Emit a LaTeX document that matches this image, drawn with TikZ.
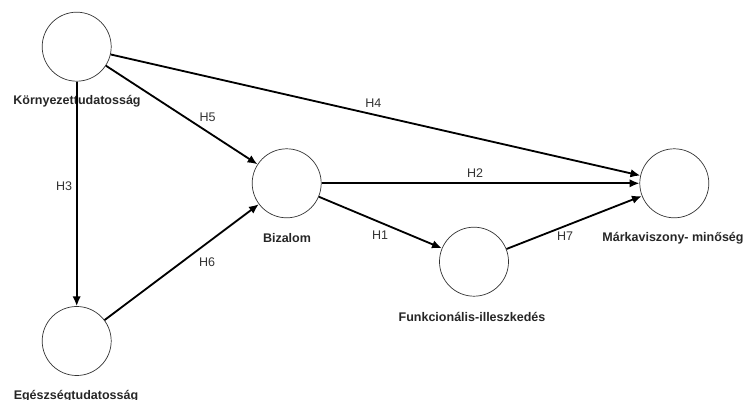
\documentclass[tikz,border=0pt]{standalone}
\usepackage{fontspec}
\setmainfont{Liberation Sans}
\usetikzlibrary{arrows.meta}
\tikzset{
  construct/.style={circle, draw=black!80, line width=0.5pt, minimum size=1.725cm, inner sep=0pt},
  caption/.style={font=\fontsize{8.9}{10}\selectfont\bfseries, text=black!85, inner sep=1pt},
  hyp/.style={font=\fontsize{8.9}{10}\selectfont, text=black!80, inner sep=1pt},
  rel/.style={line width=1.3pt, -{Latex[length=7pt,width=6pt]}}
}
\begin{document}
\begin{tikzpicture}[x=0.025cm, y=-0.025cm]
  \useasboundingbox (0,0) rectangle (746,400);
  % constructs
  \node[construct] (env) at (76.7,46.7) {};
  \node[construct] (health) at (76.7,341) {};
  \node[construct] (trust) at (286.7,183.3) {};
  \node[construct] (fit) at (474,261.7) {};
  \node[construct] (brand) at (674.3,183.3) {};
  % captions
  \node[caption] (envlab) at (77,101) {Környezettudatosság};
  \node[caption] (healthlab) at (76,396) {Egészségtudatosság};
  \node[caption] (trustlab) at (287,238) {Bizalom};
  \node[caption] (fitlab) at (472,317) {Funkcionális-illeszkedés};
  \node[caption] (brandlab) at (673,238) {Márkaviszony- minőség};
  % relations
  \draw[rel] (env) -- (brand);
  \draw[rel] (env) -- (trust);
  \draw[rel] (env) -- (health);
  \draw[rel] (health) -- (trust);
  \draw[rel] (trust) -- (brand);
  \draw[rel] (trust) -- (fit);
  \draw[rel] (fit) -- (brand);
  % hypotheses
  \node[hyp] at (373.3,103.3) {H4};
  \node[hyp] at (207.7,117.7) {H5};
  \node[hyp] at (64,186) {H3};
  \node[hyp] at (475,173) {H2};
  \node[hyp] at (380,235) {H1};
  \node[hyp] at (565,236) {H7};
  \node[hyp] at (207,262) {H6};
\end{tikzpicture}
\end{document}
